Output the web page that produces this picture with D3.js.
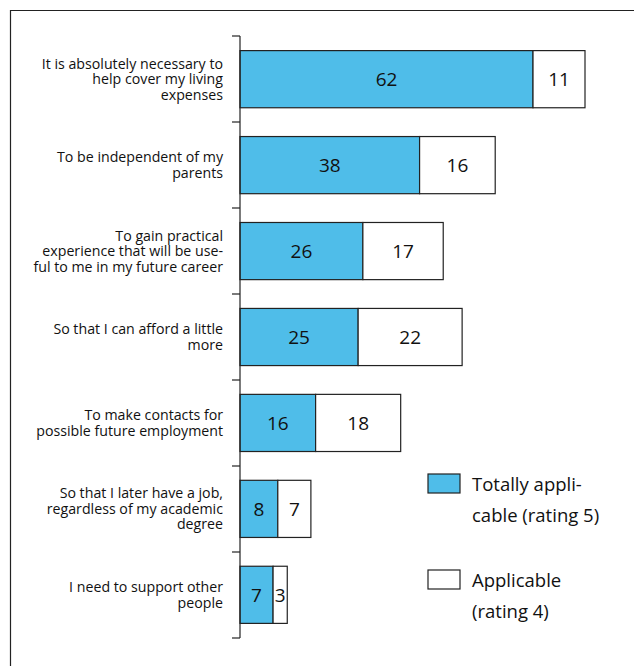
<!DOCTYPE html>
<html>
<head>
<meta charset="utf-8">
<script src="https://cdn.jsdelivr.net/npm/d3@7"></script>
<style>
  html, body { margin: 0; padding: 0; background: #fff; }
  svg { display: block; font-family: "Open Sans", "Noto Sans", sans-serif; }
</style>
</head>
<body>
<svg id="chart" width="634" height="666"></svg>
<script>
// Reasons for working while studying (% of students)
const categories = [
  ["It is absolutely necessary to", "help cover my living", "expenses"],
  ["To be independent of my", "parents"],
  ["To gain practical", "experience that will be use-", "ful to me in my future career"],
  ["So that I can afford a little", "more"],
  ["To make contacts for", "possible future employment"],
  ["So that I later have a job,", "regardless of my academic", "degree"],
  ["I need to support other", "people"]
];
const totallyApplicable = [62, 38, 26, 25, 16, 8, 7];   // rating 5
const applicable = [11, 16, 17, 22, 18, 7, 3];          // rating 4
const seriesNames = [["Totally appli-", "cable (rating 5)"], ["Applicable", "(rating 4)"]];
const seriesColors = ["#4fbde9", "#ffffff"];

const svg = d3.select("#chart");

// outer frame
svg.append("path")
  .attr("d", "M10.5,680 V10.5 H650")
  .attr("fill", "none")
  .attr("stroke", "#222")
  .attr("stroke-width", 1.2);

const axisX = 240;
const y = d3.scaleBand()
  .domain(d3.range(categories.length))
  .range([36, 638])
  .paddingInner(0.335)
  .paddingOuter(0.17);
const x = d3.scaleLinear().domain([0, 73]).range([axisX, 585]);

const stacked = totallyApplicable.map((v, i) => [
  { s: 0, x0: 0, x1: v, v },
  { s: 1, x0: v, x1: v + applicable[i], v: applicable[i] }
]);

const rows = svg.append("g").selectAll("g")
  .data(stacked)
  .join("g")
  .attr("transform", (d, i) => `translate(0,${y(i)})`);

rows.selectAll("rect")
  .data(d => d)
  .join("rect")
  .attr("x", d => x(d.x0))
  .attr("y", 0)
  .attr("width", d => x(d.x1) - x(d.x0))
  .attr("height", y.bandwidth())
  .attr("fill", d => seriesColors[d.s])
  .attr("stroke", "#222")
  .attr("stroke-width", 1.2);

rows.selectAll("text.val")
  .data(d => d)
  .join("text")
  .attr("class", "val")
  .attr("x", d => (x(d.x0) + x(d.x1)) / 2)
  .attr("y", y.bandwidth() / 2 + 7)
  .attr("text-anchor", "middle")
  .attr("font-size", 19)
  .attr("fill", "#111")
  .text(d => d.v);

// category axis with ticks at band boundaries
const n = categories.length;
const bounds = d3.range(n + 1).map(i => 36 + i * (638 - 36) / n);
const axisG = svg.append("g");
axisG.append("line")
  .attr("x1", axisX).attr("x2", axisX)
  .attr("y1", bounds[0]).attr("y2", bounds[bounds.length - 1])
  .attr("stroke", "#222").attr("stroke-width", 1.2);
axisG.selectAll("line.tick")
  .data(bounds)
  .join("line")
  .attr("class", "tick")
  .attr("x1", axisX - 8).attr("x2", axisX)
  .attr("y1", d => d).attr("y2", d => d)
  .attr("stroke", "#222").attr("stroke-width", 1.2);

// category labels
const lineH = 15.5;
const labels = svg.append("g")
  .selectAll("text")
  .data(categories)
  .join("text")
  .attr("text-anchor", "end")
  .attr("font-size", 14.2)
  .attr("fill", "#111");
labels.each(function (lines, i) {
  const cy = y(i) + y.bandwidth() / 2;
  const top = cy - (lines.length - 1) * lineH / 2 + 5;
  d3.select(this).selectAll("tspan")
    .data(lines)
    .join("tspan")
    .attr("x", 223)
    .attr("y", (d, j) => top + j * lineH)
    .text(d => d);
});

// legend
const legend = svg.append("g");
const legendY = [474, 570];
seriesNames.forEach((lines, k) => {
  legend.append("rect")
    .attr("x", 428).attr("y", legendY[k])
    .attr("width", 32).attr("height", 19)
    .attr("fill", seriesColors[k])
    .attr("stroke", "#222").attr("stroke-width", 1.2);
  const t = legend.append("text")
    .attr("font-size", 18.5)
    .attr("fill", "#111");
  lines.forEach((ln, j) => {
    t.append("tspan")
      .attr("x", 472)
      .attr("y", legendY[k] + 17 + j * 31)
      .text(ln);
  });
});
</script>
</body>
</html>
